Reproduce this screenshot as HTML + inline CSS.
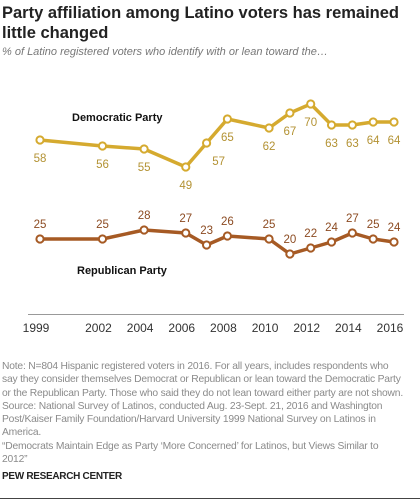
<!DOCTYPE html>
<html><head><meta charset="utf-8"><style>
body{margin:0;width:420px;height:501px;background:#fff;font-family:"Liberation Sans",sans-serif;position:relative;overflow:hidden}
.t{position:absolute;left:2px;top:3px;font-size:16.5px;font-weight:bold;line-height:20px;color:#222;width:410px}
.s{position:absolute;left:2px;top:46px;font-size:11px;font-style:italic;color:#777}
.n{position:absolute;left:2px;top:360px;font-size:10.3px;line-height:13.3px;color:#8a8a8a;white-space:nowrap;letter-spacing:-0.2px}
.p{position:absolute;left:2px;top:471px;font-size:10px;font-weight:bold;color:#222;letter-spacing:-0.3px}
.hr{position:absolute;left:0;top:498px;width:420px;height:1px;background:#444}
svg{position:absolute;left:0;top:0}
</style></head><body>
<div class="t">Party affiliation among Latino voters has remained little changed</div>
<div class="s">% of Latino registered voters who identify with or lean toward the…</div>
<svg id="c" width="420" height="360"></svg>
<div class="n">Note: N=804 Hispanic registered voters in 2016. For all years, includes respondents who<br>say they consider themselves Democrat or Republican or lean toward the Democratic Party<br>or the Republican Party. Those who said they do not lean toward either party are not shown.<br>Source: National Survey of Latinos, conducted Aug. 23-Sept. 21, 2016 and Washington<br>Post/Kaiser Family Foundation/Harvard University 1999 National Survey on Latinos in<br>America.<br>“Democrats Maintain Edge as Party ‘More Concerned’ for Latinos, but Views Similar to<br>2012”</div>
<div class="p">PEW RESEARCH CENTER</div>
<div class="hr"></div>
<script>
const years=[1999,2002,2004,2006,2007,2008,2010,2011,2012,2013,2014,2015,2016];
const dem=[58,56,55,49,57,65,62,67,70,63,63,64,64];
const rep=[25,25,28,27,23,26,25,20,22,24,27,25,24];
const tickYears=[1999,2002,2004,2006,2008,2010,2012,2014,2016];
const NS="http://www.w3.org/2000/svg";
const svg=document.getElementById('c');
const x=y=>40+(y-1999)*(354/17);
const yv=v=>314-3*v;
function mk(t,a){const e=document.createElementNS(NS,t);for(const k in a)e.setAttribute(k,a[k]);svg.appendChild(e);return e;}
const ax=mk('line',{x1:28,x2:404,y1:314.5,y2:314.5,stroke:'#999','stroke-width':1});


tickYears.forEach(t=>{const e=mk('text',{x:x(t)-4,y:332,'text-anchor':'middle','font-size':12,fill:'#333'});e.textContent=t;

});
function series(vals,col,lcol,name,above){
 const pl=mk('polyline',{points:vals.map((v,i)=>x(years[i])+','+yv(v)).join(' '),fill:'none',stroke:col,'stroke-width':3.5,'stroke-linejoin':'round'});
 
 
 vals.forEach((v,i)=>{
  const c=mk('circle',{cx:x(years[i]),cy:yv(v),r:3.6,fill:'#fff',stroke:col,'stroke-width':2});
  
  
  let dx=0,dy=above?-11:22;
  if(!above&&years[i]==2007){dx=12;}
  const t=mk('text',{x:x(years[i])+dx,y:yv(v)+dy,'text-anchor':'middle','font-size':11.5,fill:lcol});
  t.textContent=v;
  
  
 });
}
series(dem,'#d5aa2f','#b39233','democratic',false);
series(rep,'#a65a24','#8c4b22','republican',true);
const l1=mk('text',{x:72,y:121,'font-size':11,'font-weight':'bold',fill:'#111'});l1.textContent='Democratic Party';


const l2=mk('text',{x:77,y:274,'font-size':11,'font-weight':'bold',fill:'#111'});l2.textContent='Republican Party';


</script>
</body></html>
